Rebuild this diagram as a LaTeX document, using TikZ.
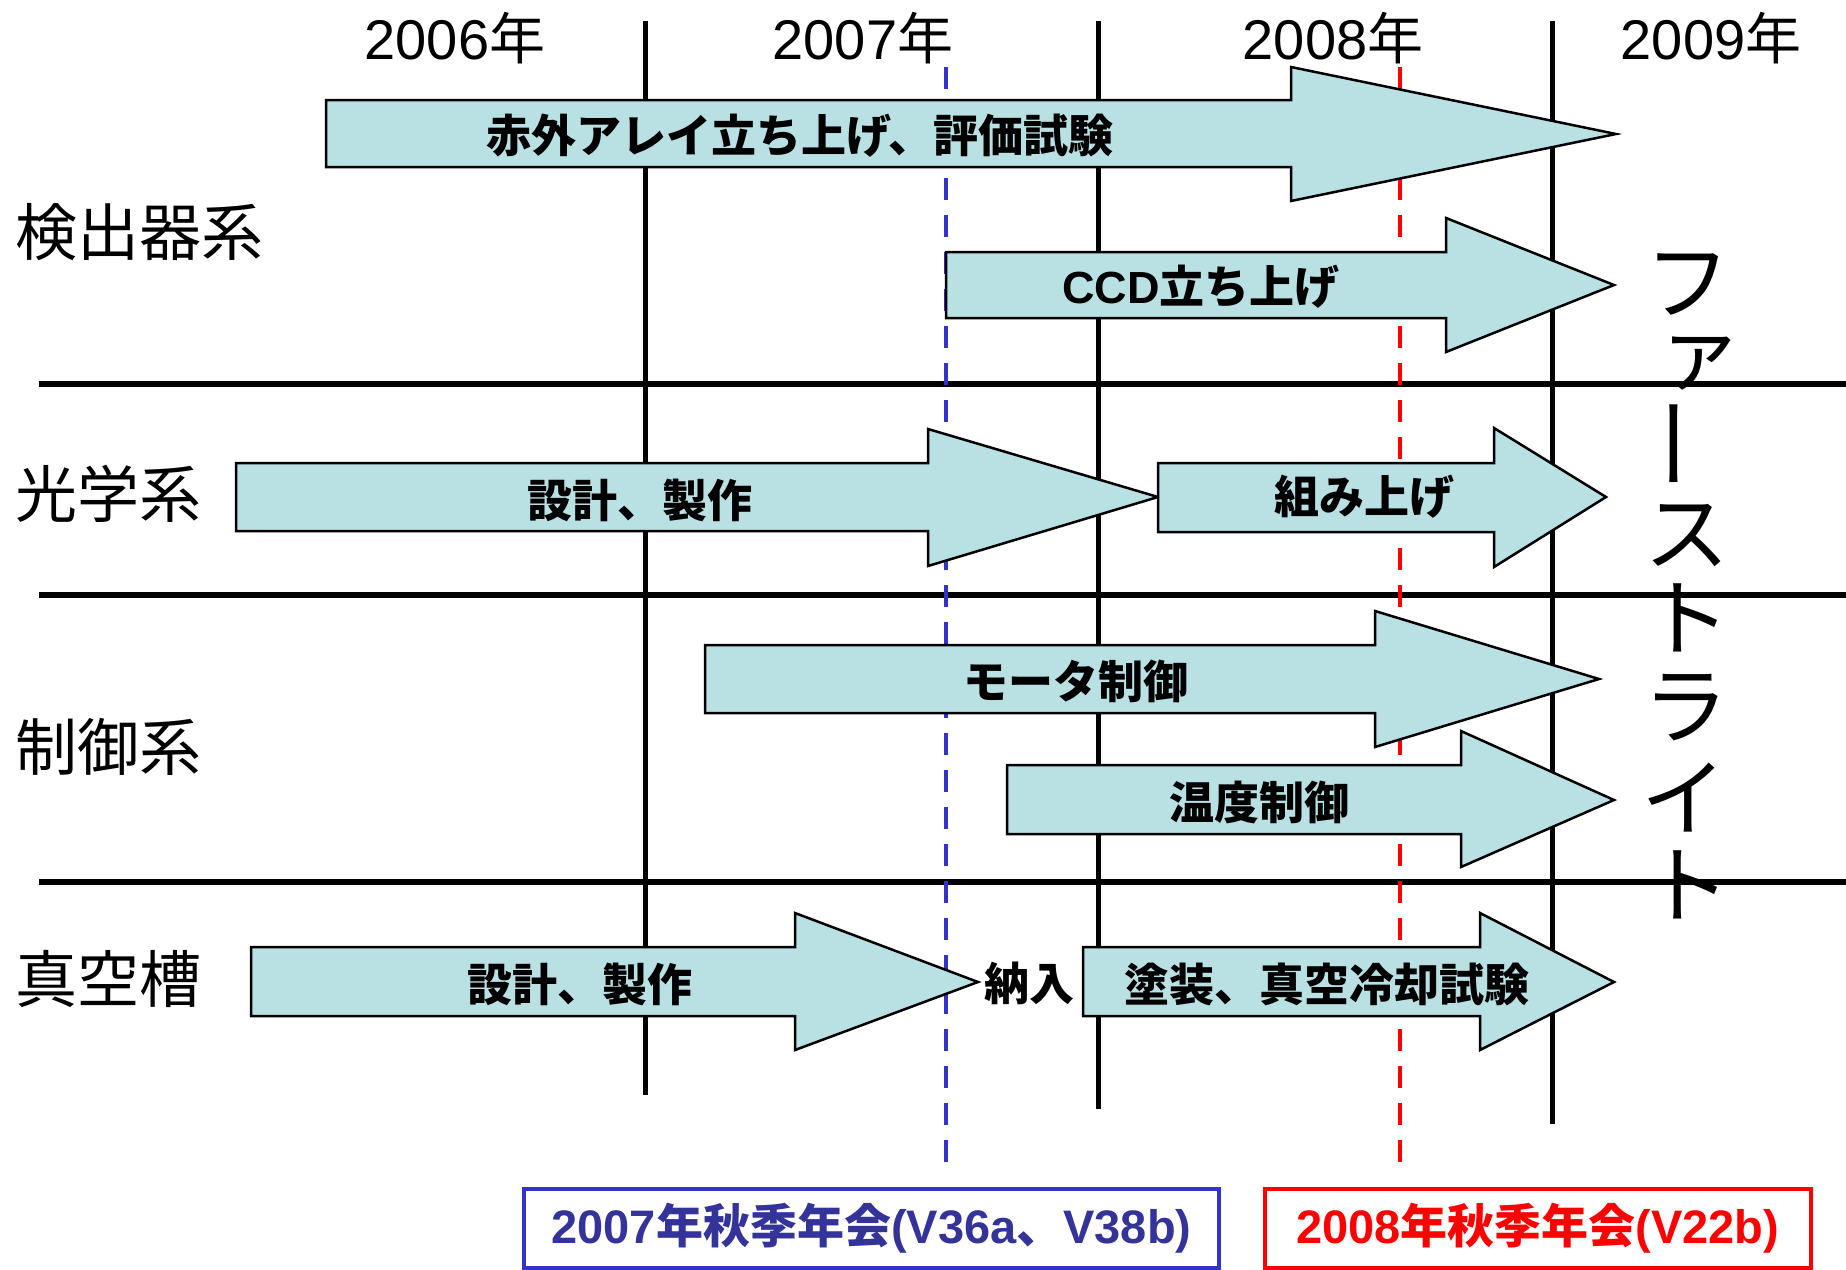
\documentclass[tikz,border=0pt]{standalone}
\usepackage{fontspec}
\setmainfont{Noto Sans CJK JP}
\newfontfamily\lat{Liberation Sans}
\definecolor{afill}{RGB}{185,224,227}
\definecolor{bblue}{RGB}{51,51,204}
\definecolor{tblue}{RGB}{51,51,153}
\newcommand\blockarr[8]{% left, top, bottom, headx, headtop, headbot, tipx, tipy
  \draw[arr] (#1,#2) -- (#4,#2) -- (#4,#5) -- (#7,#8) -- (#4,#6) -- (#4,#3) -- (#1,#3) -- cycle;}
\begin{document}
\begin{tikzpicture}[x=1pt,y=-1pt,
  arr/.style={draw=black, line width=2.5pt, fill=afill, line join=miter},
  lbl/.style={font=\bfseries\fontsize{45}{54}\selectfont, inner sep=0pt},
  rowlbl/.style={font=\fontsize{62}{70}\selectfont, anchor=west, inner sep=0pt},
  yr/.style={font=\fontsize{56}{64}\selectfont, inner sep=0pt},
  vt/.style={font=\fontsize{85}{90}\selectfont, inner sep=0pt},
  grid/.style={line width=5pt, black},
  mtg/.style={line width=4.5pt, dash pattern=on 22pt off 15pt},
  conf/.style={line width=4pt, minimum height=79pt, inner sep=0pt,
               font=\bfseries\fontsize{47}{54}\selectfont}]
\useasboundingbox (0,0) rectangle (1846,1269);
\fill[white] (0,0) rectangle (1846,1269);

% year grid
\draw[grid] (645,21) -- (645,1095);
\draw[grid] (1098,21) -- (1098,1109);
\draw[grid] (1552,21) -- (1552,1124);
% row separators
\draw[grid,line width=5.5pt] (39,384) -- (1846,384);
\draw[grid,line width=5.5pt] (39,595) -- (1846,595);
\draw[grid,line width=5.5pt] (39,882) -- (1846,882);
% meeting lines
\draw[mtg, bblue] (946,67) -- (946,1170);
\draw[mtg, red] (1400,67) -- (1400,1170);

% years
\node[yr] (y6) at (455,38) {{\lat 2006}年};
\node[yr] (y7) at (863,38) {{\lat 2007}年};
\node[yr] (y8) at (1333,38) {{\lat 2008}年};
\node[yr] (y9) at (1711,38) {{\lat 2009}年};

% row labels
\node[rowlbl] (r1) at (15,232) {検出器系};
\node[rowlbl] (r2) at (15,494) {光学系};
\node[rowlbl] (r3) at (15,747) {制御系};
\node[rowlbl] (r4) at (15,979) {真空槽};

% arrows
\blockarr{326}{100}{167}{1291}{67}{201}{1616}{134}
\blockarr{946}{252}{318}{1446}{218}{352}{1614}{285}
\blockarr{236}{463}{531}{928}{429}{566}{1158}{497}
\blockarr{1158}{463}{532}{1494}{428}{567}{1606}{497}
\blockarr{705}{645}{713}{1375}{611}{747}{1599}{679}
\blockarr{1007}{765}{834}{1461}{731}{867}{1614}{800}
\blockarr{251}{947}{1016}{795}{913}{1050}{978}{982}
\blockarr{1083}{947}{1016}{1480}{913}{1050}{1614}{982}

% arrow labels
\node[lbl] (t1) at (800,136) {赤外アレイ立ち上げ、評価試験};
\node[lbl] (t2) at (1201,287) {{\lat CCD}立ち上げ};
\node[lbl] (t3) at (640,500) {設計、製作};
\node[lbl] (t4) at (1364,497) {組み上げ};
\node[lbl] (t5) at (1076,681) {モータ制御};
\node[lbl] (t6) at (1259,802) {温度制御};
\node[lbl] (t7) at (580,984) {設計、製作};
\node[lbl] (t8) at (1029,983) {納入};
\node[lbl] (t9) at (1327,984) {塗装、真空冷却試験};

% first light (vertical)
\node[vt] (v1) at (1688,284) {フ};
\node[vt] (v2) at (1700,364) {ァ};
\node[vt,rotate=90,xscale=1.15] (v3) at (1688,444) {ー};
\node[vt] (v4) at (1687,536) {ス};
\node[vt] (v5) at (1688,618) {ト};
\node[vt] (v6) at (1686,708) {ラ};
\node[vt] (v7) at (1684,798) {イ};
\node[vt] (v8) at (1688,885) {ト};

% conference boxes
\node[conf, draw=bblue, text=tblue, minimum width=695pt] (c1) at (871.5,1228.5)
  {{\lat 2007}年秋季年会{\lat (V36a}、{\lat V38b)}};
\node[conf, draw=red, text=red, minimum width=546.5pt] (c2) at (1537.75,1228.5)
  {{\lat 2008}年秋季年会{\lat (V22b)}};
\end{tikzpicture}
\end{document}
